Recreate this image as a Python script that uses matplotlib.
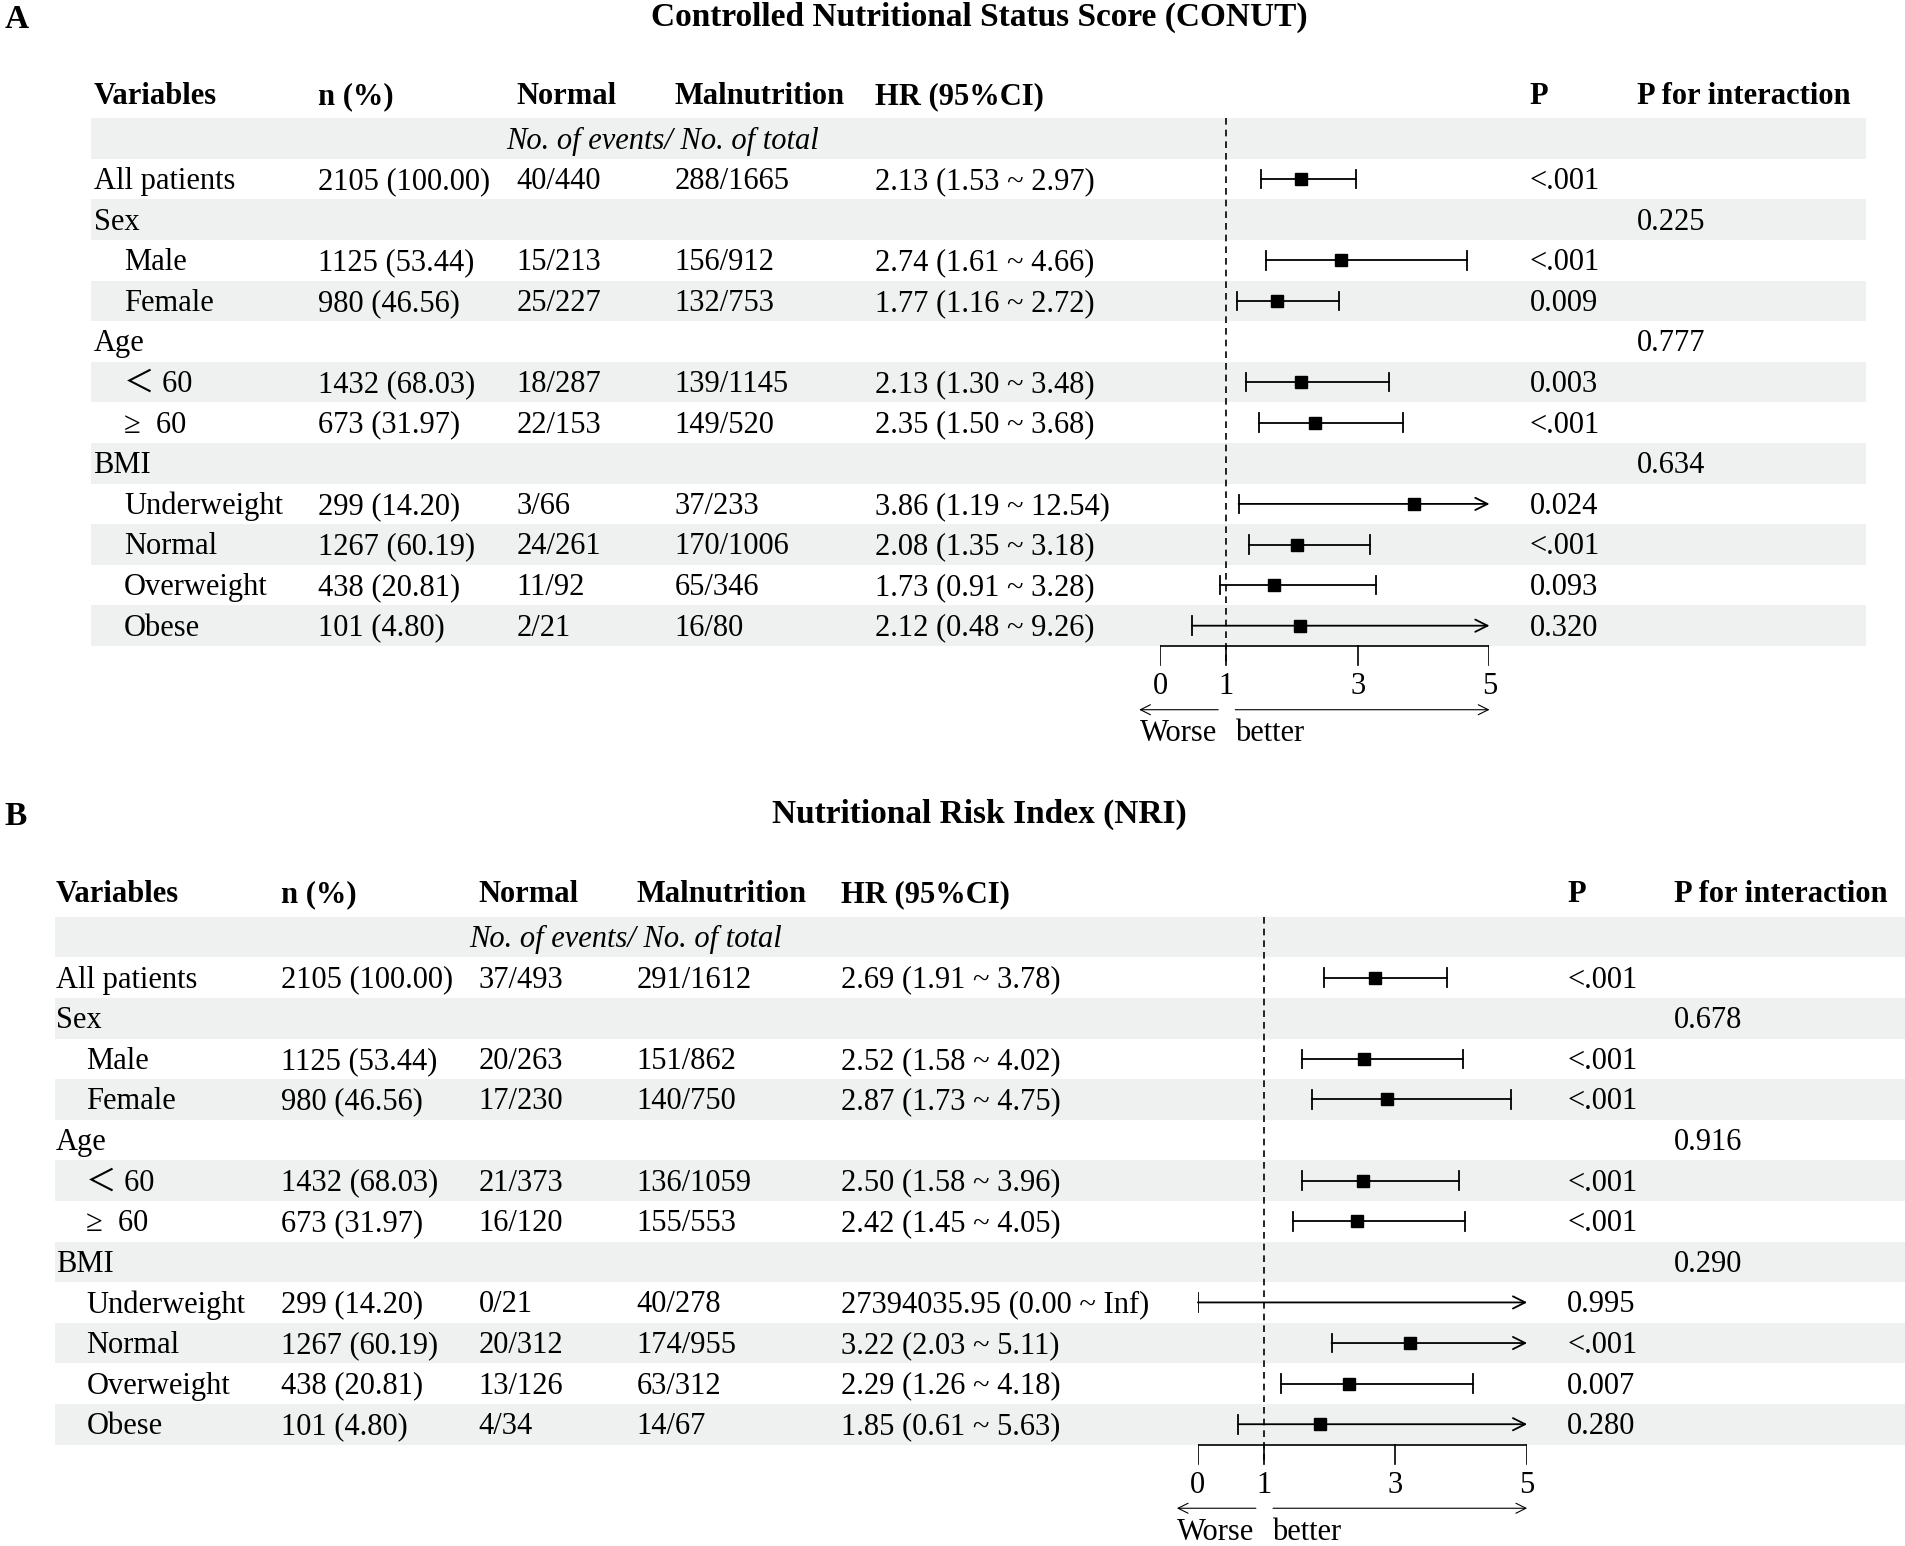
import numpy as np
import matplotlib
matplotlib.use("Agg")
import matplotlib.pyplot as plt

plt.rcParams['font.family'] = ['Liberation Serif', 'Noto Sans CJK SC', 'DejaVu Sans']

# ---- data ----
variables = ["All patients", "Sex", "Male", "Female", "Age", "＜ 60", "≥  60",
             "BMI", "Underweight", "Normal", "Overweight", "Obese"]
indented = [False, False, True, True, False, True, True, False, True, True, True, True]
n_count = [2105, None, 1125, 980, None, 1432, 673, None, 299, 1267, 438, 101]
n_pct = [100.00, None, 53.44, 46.56, None, 68.03, 31.97, None, 14.20, 60.19, 20.81, 4.80]

headers = ["Variables", "n (%)", "Normal", "Malnutrition", "HR (95%CI)", "P", "P for interaction"]

# CONUT
conut_normal = ["40/440", "", "15/213", "25/227", "", "18/287", "22/153", "", "3/66", "24/261", "11/92", "2/21"]
conut_maln = ["288/1665", "", "156/912", "132/753", "", "139/1145", "149/520", "", "37/233", "170/1006", "65/346", "16/80"]
conut_hr = [2.13, None, 2.74, 1.77, None, 2.13, 2.35, None, 3.86, 2.08, 1.73, 2.12]
conut_lo = [1.53, None, 1.61, 1.16, None, 1.30, 1.50, None, 1.19, 1.35, 0.91, 0.48]
conut_hi = [2.97, None, 4.66, 2.72, None, 3.48, 3.68, None, 12.54, 3.18, 3.28, 9.26]
conut_p = ["<.001", "", "<.001", "0.009", "", "0.003", "<.001", "", "0.024", "<.001", "0.093", "0.320"]
conut_pint = ["", "0.225", "", "", "0.777", "", "", "0.634", "", "", "", ""]

# NRI
nri_normal = ["37/493", "", "20/263", "17/230", "", "21/373", "16/120", "", "0/21", "20/312", "13/126", "4/34"]
nri_maln = ["291/1612", "", "151/862", "140/750", "", "136/1059", "155/553", "", "40/278", "174/955", "63/312", "14/67"]
nri_hr = [2.69, None, 2.52, 2.87, None, 2.50, 2.42, None, 27394035.95, 3.22, 2.29, 1.85]
nri_lo = [1.91, None, 1.58, 1.73, None, 1.58, 1.45, None, 0.00, 2.03, 1.26, 0.61]
nri_hi = [3.78, None, 4.02, 4.75, None, 3.96, 4.05, None, np.inf, 5.11, 4.18, 5.63]
nri_p = ["<.001", "", "<.001", "<.001", "", "<.001", "<.001", "", "0.995", "<.001", "0.007", "0.280"]
nri_pint = ["", "0.678", "", "", "0.916", "", "", "0.290", "", "", "", ""]

ticks = [0, 1, 3, 5]

# ---- layout (reference units, 1568 x 1272) ----
W0, H0 = 1568.0, 1272.0
DY = 33.4
FS = 22
SHADE = '#EEF1F0'
TY = 0.06  # small downward nudge for row text


def fmt(v):
    return "Inf" if np.isinf(v) else f"{v:.2f}"


def panel(letter, title, y_title, y0, x_left, x_right, cols, fx0, fx5,
          normal, maln, hr, lo, hi, p, pint):
    top, bot = -2.0, 15.3
    y_top = y0 + top * DY
    y_bot = y0 + bot * DY
    rect = [x_left / W0, 1 - y_bot / H0, (x_right - x_left) / W0, (y_bot - y_top) / H0]
    ax = fig.add_axes(rect)
    ax.set_xlim(x_left, x_right)
    ax.set_ylim(bot, top)
    ax.axis('off')

    fig.text(4 / W0, 1 - (y_title + 4) / H0, letter, fontsize=24, fontweight='bold', va='center')
    fig.text(806 / W0, 1 - (y_title + 2) / H0, title, fontsize=24, fontweight='bold', ha='center', va='center')

    # shaded rows
    for i in range(0, 13, 2):
        ax.axhspan(i - 0.5, i + 0.5, color=SHADE, lw=0, zorder=0)

    for c, h in zip(cols, headers):
        ax.text(c, -1.1 + TY, h, fontsize=FS, fontweight='bold', va='center')
    ax.text(cols[2] - 8, TY, "No. of events/ No. of total", fontsize=FS, style='italic', va='center')

    for k, name in enumerate(variables):
        r = k + 1 + TY
        ax.text(cols[0] + (25 if indented[k] else 0), r, name, fontsize=FS, va='center')
        if n_count[k] is not None:
            ax.text(cols[1], r, f"{n_count[k]} ({n_pct[k]:.2f})", fontsize=FS, va='center')
            ax.text(cols[4], r, f"{hr[k]:.2f} ({fmt(lo[k])} ~ {fmt(hi[k])})", fontsize=FS, va='center')
        ax.text(cols[2], r, normal[k], fontsize=FS, va='center')
        ax.text(cols[3], r, maln[k], fontsize=FS, va='center')
        ax.text(cols[5], r, p[k], fontsize=FS, va='center')
        ax.text(cols[6], r, pint[k], fontsize=FS, va='center')

    # forest plot
    fx = fig.add_axes([fx0 / W0, rect[1], (fx5 - fx0) / W0, rect[3]])
    fx.set_xlim(0, 5)
    fx.set_ylim(bot, top)
    fx.axis('off')
    fx.patch.set_alpha(0)

    fx.plot([1, 1], [-0.5, 12.97], color='k', lw=1.2, ls=(0, (4, 3)))
    fx.plot([0, 5], [12.5, 12.5], color='k', lw=1.2)
    for t in ticks:
        fx.plot([t, t], [12.5, 12.97], color='k', lw=1.2)
        fx.text(t, 13.5, str(t), fontsize=FS, ha='center', va='center')

    for k in range(len(variables)):
        if hr[k] is None:
            continue
        r = k + 1
        a = max(lo[k], 0)
        b = min(hi[k], 5)
        fx.plot([a, a], [r - 0.23, r + 0.23], color='k', lw=1.3)
        if hi[k] > 5:
            fx.annotate('', xy=(5, r), xytext=(a, r),
                        arrowprops=dict(arrowstyle='->', lw=1.3, color='k',
                                        mutation_scale=22, shrinkA=0, shrinkB=0))
        else:
            fx.plot([a, b], [r, r], color='k', lw=1.3)
            fx.plot([b, b], [r - 0.23, r + 0.23], color='k', lw=1.3)
        if 0 <= hr[k] <= 5:
            fx.plot(hr[k], r, marker='s', ms=8, color='k', zorder=5)

    fx.annotate('', xy=(-0.32, 14.07), xytext=(0.88, 14.07),
                arrowprops=dict(arrowstyle='->', lw=0.8, color='k', mutation_scale=18,
                                shrinkA=0, shrinkB=0), annotation_clip=False)
    fx.annotate('', xy=(5, 14.07), xytext=(1.14, 14.07),
                arrowprops=dict(arrowstyle='->', lw=0.8, color='k', mutation_scale=18,
                                shrinkA=0, shrinkB=0), annotation_clip=False)
    fx.text(0.86, 14.84, "Worse", fontsize=FS, ha='right', va='baseline', clip_on=False)
    fx.text(1.13, 14.84, "better", fontsize=FS, ha='left', va='baseline', clip_on=False)


fig = plt.figure(figsize=(19.05, 15.46), dpi=100)

cols_a = [77, 262, 425, 555, 720, 1259, 1347]
cols_b = [46, 231, 394, 524, 692, 1290, 1378]

panel("A", "Controlled Nutritional Status Score (CONUT)", 12, 114, 75, 1536, cols_a, 955, 1226,
      conut_normal, conut_maln, conut_hr, conut_lo, conut_hi, conut_p, conut_pint)
panel("B", "Nutritional Risk Index (NRI)", 668, 771, 45, 1568, cols_b, 986, 1257,
      nri_normal, nri_maln, nri_hr, nri_lo, nri_hi, nri_p, nri_pint)

fig.savefig("out.png", dpi=100)
